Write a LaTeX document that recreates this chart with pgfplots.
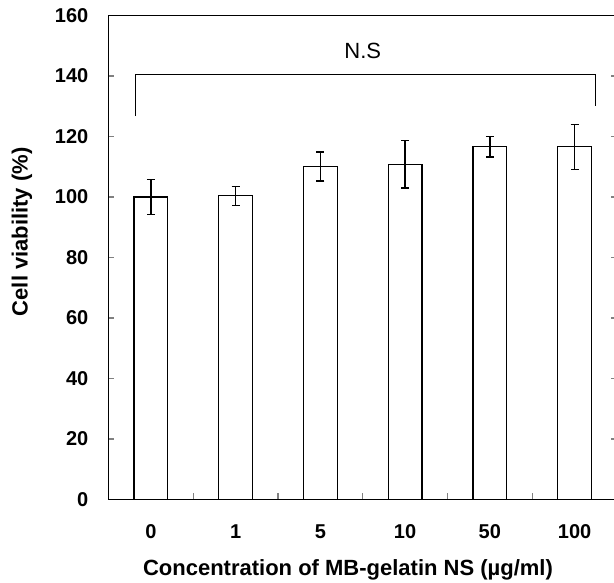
\documentclass[border=0pt]{standalone}
\usepackage{pgfplots}
\pgfplotsset{compat=1.18}
\usepackage{fontspec}
\setmainfont{Liberation Sans}
\begin{document}
\begin{tikzpicture}[x=1pt,y=1pt]
\useasboundingbox (0,0) rectangle (614,583);
\begin{axis}[
  at={(108.5pt,83.5pt)}, anchor=south west,
  scale only axis, width=508.5pt, height=484pt,
  xmin=-0.5, xmax=5.5, ymin=0, ymax=160,
  axis line style={line width=1.3pt},
  xtick={0,...,5}, xticklabels={0,1,5,10,50,100},
  minor xtick={0.5,1.5,2.5,3.5,4.5},
  major x tick style={draw=none},
  minor x tick style={line width=1.2pt},
  ytick={0,20,...,160},
  y tick style={line width=1.2pt},
  xtick pos=left, ytick pos=both,
  tick align=inside, major tick length=6pt, minor tick length=6pt,
  /pgf/number format/assume math mode=true,
  ticklabel style={font=\bfseries\fontsize{20}{24}\selectfont, inner sep=0pt},
  yticklabel style={xshift=-20pt},
  xticklabel style={yshift=-25pt},
  xlabel={Concentration of MB-gelatin NS (µg/ml)},
  ylabel={Cell viability (\%)},
  label style={font=\bfseries\fontsize{22}{26}\selectfont},
  xlabel style={at={(axis description cs:0.471,-0.156)}, anchor=base},
  ylabel style={at={(axis description cs:-0.170,0.553)}, anchor=center, rotate=0},
  clip=false,
]
\addplot[ybar, bar width=0.4, fill=white, draw=black, line width=1.2pt,
  error bars/.cd, y dir=both, y explicit,
  error bar style={line width=1.3pt},
  error mark options={rotate=90, mark size=4pt, line width=1.3pt}]
  coordinates {
  (0,100.0) +- (0,5.7)
  (1,100.4) +- (0,3.1)
  (2,110.1) +- (0,4.8)
  (3,110.8) +- (0,7.8)
  (4,116.6) +- (0,3.4)
  (5,116.6) +- (0,7.4)
  };
\addplot[line width=1.2pt, mark=none] coordinates {(-0.18,126.7) (-0.18,140.6) (5.25,140.6) (5.25,130.2)};
\node[font=\fontsize{22}{26}\selectfont] at (axis cs:2.5,148.3) {N.S};
\end{axis}
\end{tikzpicture}
\end{document}
